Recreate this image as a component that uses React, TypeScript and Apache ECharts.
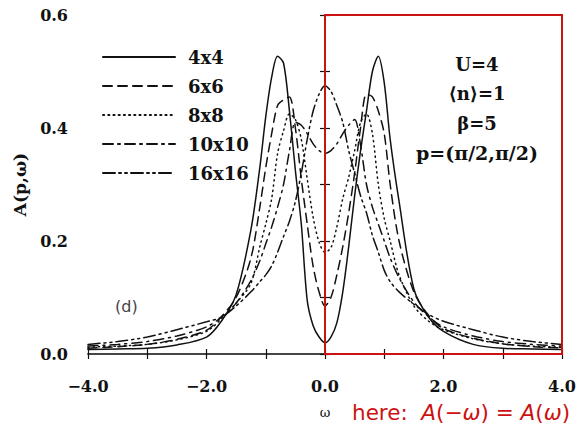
import React, { useEffect, useRef } from "react";
import * as echarts from "echarts";

const omega = [-4, -3.5, -3, -2.5, -2, -1.75, -1.5, -1.25, -1.1, -1, -0.9, -0.8, -0.7, -0.6, -0.5, -0.4, -0.3, -0.2, -0.1, 0, 0.1, 0.2, 0.3, 0.4, 0.5, 0.6, 0.7, 0.8, 0.9, 1, 1.1, 1.25, 1.5, 1.75, 2, 2.5, 3, 3.5, 4];

const a4x4 = [0.008, 0.009, 0.01, 0.016, 0.03, 0.058, 0.105, 0.22, 0.33, 0.42, 0.49, 0.527, 0.515, 0.43, 0.325, 0.23, 0.095, 0.05, 0.03, 0.02, 0.03, 0.055, 0.11, 0.19, 0.28, 0.36, 0.43, 0.5, 0.527, 0.48, 0.38, 0.27, 0.115, 0.065, 0.04, 0.017, 0.01, 0.009, 0.008];
const a6x6 = [0.01, 0.013, 0.017, 0.026, 0.042, 0.066, 0.1, 0.17, 0.26, 0.33, 0.39, 0.44, 0.45, 0.455, 0.4, 0.31, 0.23, 0.155, 0.11, 0.085, 0.1, 0.14, 0.19, 0.25, 0.32, 0.4, 0.46, 0.455, 0.43, 0.39, 0.3, 0.2, 0.11, 0.068, 0.045, 0.028, 0.018, 0.013, 0.011];
const a8x8 = [0.012, 0.014, 0.017, 0.025, 0.04, 0.062, 0.09, 0.125, 0.19, 0.23, 0.275, 0.355, 0.395, 0.425, 0.415, 0.38, 0.31, 0.242, 0.198, 0.18, 0.188, 0.225, 0.275, 0.313, 0.36, 0.41, 0.425, 0.39, 0.3, 0.24, 0.2, 0.14, 0.085, 0.058, 0.043, 0.027, 0.018, 0.014, 0.012];
const a10x10 = [0.014, 0.017, 0.022, 0.032, 0.048, 0.065, 0.09, 0.13, 0.165, 0.195, 0.225, 0.26, 0.3, 0.36, 0.41, 0.405, 0.39, 0.372, 0.36, 0.355, 0.36, 0.372, 0.39, 0.405, 0.415, 0.37, 0.3, 0.26, 0.23, 0.2, 0.17, 0.135, 0.092, 0.066, 0.048, 0.032, 0.022, 0.017, 0.014];
const a16x16 = [0.017, 0.022, 0.03, 0.043, 0.057, 0.065, 0.085, 0.11, 0.128, 0.14, 0.156, 0.18, 0.208, 0.235, 0.27, 0.32, 0.38, 0.43, 0.46, 0.475, 0.465, 0.44, 0.41, 0.36, 0.32, 0.28, 0.25, 0.21, 0.18, 0.148, 0.128, 0.11, 0.088, 0.07, 0.058, 0.043, 0.03, 0.022, 0.017];

const seriesNames = ["4x4", "6x6", "8x8", "10x10", "16x16"];
const seriesValues = [a4x4, a6x6, a8x8, a10x10, a16x16];
const dashPatterns: (string | number[])[] = ["solid", [9, 6], [1.2, 4], [10, 5, 2, 5], [12, 4, 2, 4, 2, 4]];

const xTicks = { min: -4, max: 4, interval: 2 };
const yTicks = { min: 0, max: 0.6, interval: 0.2 };
const paramLines = ["U=4", "⟨n⟩=1", "β=5", "p=(π/2,π/2)"];

const SERIF = "'DejaVu Serif', 'Liberation Serif', serif";
const INK = "#111";

export default function App() {
  const ref = useRef<HTMLDivElement>(null);
  useEffect(() => {
    if (!ref.current) return;
    const chart = echarts.init(ref.current, undefined, { renderer: "svg" });
    const fmt = (v: number) => (v < 0 ? "\u2212" : "") + Math.abs(v).toFixed(1);
    const tickStyle = { show: true, inside: true, length: 5, lineStyle: { color: INK, width: 1.2 } };
    const minor = { show: true, splitNumber: 2, length: 5, lineStyle: { color: INK, width: 1.2 } };
    const series: any[] = seriesNames.map((name, k) => ({
      name,
      type: "line",
      symbol: "none",
      smooth: 0.3,
      data: omega.map((w, i) => [w, seriesValues[k][i]]),
      lineStyle: { color: INK, width: 1.5, type: dashPatterns[k], cap: "round" },
      itemStyle: { color: INK },
      z: 3,
    }));
    series[0].markArea = {
      silent: true,
      itemStyle: { color: "rgba(0,0,0,0)", borderColor: "#cc1111", borderWidth: 2 },
      data: [[{ xAxis: 0, yAxis: 0 }, { xAxis: 4, yAxis: 0.6 }]],
      z: 10,
    };
    chart.setOption({
      animation: false,
      backgroundColor: "#fff",
      grid: { left: 88, right: 21, top: 15, bottom: 80 },
      legend: {
        orient: "vertical",
        left: 97,
        top: 43,
        itemWidth: 72,
        itemHeight: 14,
        itemGap: 11,
        data: seriesNames,
        itemStyle: { opacity: 0 },
        textStyle: { fontFamily: SERIF, fontWeight: "bold", fontSize: 18, color: INK, padding: [0, 0, 0, 8], lineHeight: 18 },
      },
      xAxis: [
        {
          type: "value", ...xTicks,
          axisLine: { lineStyle: { color: INK, width: 1.5 } },
          axisTick: tickStyle,
          minorTick: minor,
          splitLine: { show: false },
          axisLabel: { formatter: fmt, fontFamily: SERIF, fontWeight: "bold", fontSize: 16, color: INK, margin: 24 },
          name: "ω",
          nameLocation: "middle",
          nameGap: 52,
          nameTextStyle: { fontFamily: SERIF, fontSize: 13, color: INK },
        },
        {
          type: "value", ...xTicks, position: "top",
          axisLine: { show: true, lineStyle: { color: "#444", width: 1.5 } },
          axisTick: tickStyle,
          minorTick: minor,
          splitLine: { show: false },
          axisLabel: { show: false },
        },
      ],
      yAxis: [
        {
          type: "value", ...yTicks,
          axisLine: { show: true, lineStyle: { color: INK, width: 1.5 } },
          axisTick: tickStyle,
          minorTick: minor,
          splitLine: { show: false },
          axisLabel: { formatter: (v: number) => v.toFixed(1), fontFamily: SERIF, fontWeight: "bold", fontSize: 16, color: INK, margin: 20 },
          name: "A(p,ω)",
          nameLocation: "middle",
          nameRotate: 90,
          nameGap: 60,
          nameTextStyle: { fontFamily: SERIF, fontWeight: "bold", fontSize: 17, color: INK },
        },
        {
          type: "value", ...yTicks, position: "right",
          axisLine: { show: true, lineStyle: { color: INK, width: 1.5 } },
          axisTick: tickStyle,
          minorTick: minor,
          splitLine: { show: false },
          axisLabel: { show: false },
        },
      ],
      series,
      graphic: [
        ...paramLines.map((t, i) => ({
          type: "text",
          x: 477,
          y: 64 + i * 29.5,
          style: {
            text: t,
            fontFamily: SERIF,
            fontWeight: "bold",
            fontSize: i === 3 ? 19 : 18,
            fill: INK,
            align: "center",
            verticalAlign: "middle",
          },
          z: 20,
        })),
        {
          type: "text",
          x: 115,
          y: 306,
          style: { text: "(d)", fontFamily: "'DejaVu Sans', sans-serif", fontSize: 16, fill: "#444", verticalAlign: "middle" },
          z: 20,
        },
        {
          type: "text",
          x: 352,
          y: 412,
          style: {
            text: "{n|here:  }{i|A}{n|(−}{i|ω}{n|) = }{i|A}{n|(}{i|ω}{n|)}",
            verticalAlign: "middle",
            rich: {
              n: { fontFamily: "'DejaVu Sans', sans-serif", fontSize: 21.5, fill: "#cc1111", color: "#cc1111" },
              i: { fontFamily: "'DejaVu Sans', sans-serif", fontStyle: "italic", fontSize: 21.5, fill: "#cc1111", color: "#cc1111" },
            },
          },
          z: 20,
        },
      ],
    });
    return () => chart.dispose();
  }, []);
  return <div ref={ref} style={{ position: "fixed", left: 0, top: 0, width: 583, height: 434, background: "#fff" }} />;
}
